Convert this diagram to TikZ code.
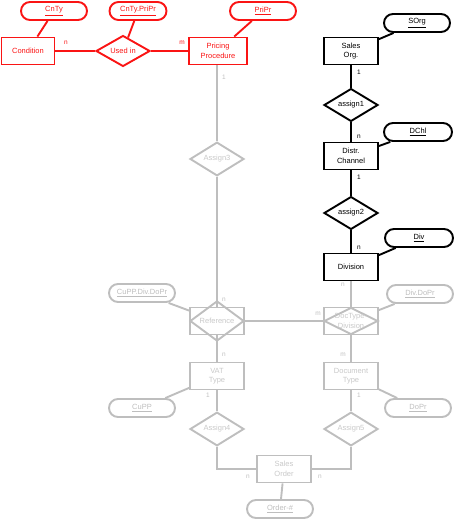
\documentclass[tikz,border=0pt]{standalone}
\usepackage{fontspec}
\setmainfont{Liberation Sans}
\usetikzlibrary{shapes.geometric,positioning}
\definecolor{erRed}{RGB}{250,20,20}
\definecolor{erGray}{RGB}{190,190,190}
\definecolor{erGrayText}{RGB}{200,200,200}

\begin{document}
\begin{tikzpicture}[
  x=1pt,
  y=-1pt,
  entity/.style={
    draw,
    line width=1.9pt,
    minimum width=54pt,
    minimum height=27pt,
    inner sep=1pt,
    align=center,
    font=\fontsize{7.5}{9.5}\selectfont
  },
  attrib/.style={
    draw,
    line width=1.9pt,
    rounded corners=9pt,
    minimum width=66pt,
    minimum height=18pt,
    inner sep=1pt,
    font=\fontsize{7.5}{9}\selectfont
  },
  relation/.style={
    draw,
    diamond,
    line width=1.9pt,
    minimum width=54pt,
    minimum height=27pt,
    inner sep=0pt,
    font=\fontsize{7.5}{9}\selectfont
  },
  card/.style={inner sep=0pt,font=\fontsize{6.5}{7}\selectfont},
  link/.style={line width=1.9pt}
]
  \useasboundingbox (0,0) rectangle (454,521);

  % red part
  \node[entity,erRed,minimum width=53pt] (condition) at (28,51) {Condition};
  \node[relation,erRed] (usedin) at (123,51) {Used in};
  \node[entity,erRed,minimum width=58pt] (pricing) at (218,51) {Pricing\\Procedure};
  \node[attrib,erRed] (cnty) at (54,11) {\underline{CnTy}};
  \node[attrib,erRed,minimum width=57pt] (cntypripr) at (138,11) {\underline{CnTy.PriPr}};
  \node[attrib,erRed] (pripr) at (263,11) {\underline{PriPr}};
  \draw[link,erRed] (condition) -- (usedin) -- (pricing);
  \draw[link,erRed] (cnty) -- (condition);
  \draw[link,erRed] (cntypripr) -- (usedin);
  \draw[link,erRed] (pripr) -- (pricing);
  \node[card,erRed] at (66,43) {n};
  \node[card,erRed] at (182,43) {m};

  % black part
  \node[entity] (salesorg) at (351,51) {Sales\\Org.};
  \node[relation] (assign1) at (351,105) {assign1};
  \node[entity] (distr) at (351,156) {Distr.\\Channel};
  \node[relation] (assign2) at (351,213) {assign2};
  \node[entity] (division) at (351,267) {Division};
  \node[attrib] (sorg) at (417,23) {\underline{SOrg}};
  \node[attrib,minimum width=68pt] (dchl) at (418,132) {\underline{DChl}};
  \node[attrib,minimum width=68pt] (div) at (419,238) {\underline{Div}};
  \draw[link] (salesorg) -- (assign1) -- (distr) -- (assign2) -- (division);
  \draw[link] (sorg) -- (salesorg);
  \draw[link] (dchl) -- (distr);
  \draw[link] (div) -- (division);
  \node[card] at (359,72) {1};
  \node[card] at (359,137) {n};
  \node[card] at (359,177) {1};
  \node[card] at (359,248) {n};

  % gray part
  \begin{scope}[erGray]
    \node[relation,text=erGrayText] (assign3) at (217,159) {Assign3};
    \node[entity] (reference) at (217,321) {};
    \node[relation,text=erGrayText] (referenced) at (217,321) {Reference};
    \node[entity] (doctypediv) at (351,321) {};
    \node[relation] (doctypedivd) at (351,321) {};
    \node[text=erGrayText,align=center,font=\fontsize{7.5}{9.5}\selectfont] at (351,321) {DocType-\\Division};
    \node[entity,text=erGrayText] (vat) at (217,376) {VAT\\Type};
    \node[entity,text=erGrayText] (doctype) at (351,376) {Document\\Type};
    \node[relation,text=erGrayText] (assign4) at (217,429) {Assign4};
    \node[relation,text=erGrayText] (assign5) at (351,429) {Assign5};
    \node[entity,text=erGrayText] (salesorder) at (284,469) {Sales\\Order};
    \node[attrib,text=erGray] (cuppdivdopr) at (142,293) {\underline{CuPP.Div.DoPr}};
    \node[attrib,text=erGray] (divdopr) at (420,294) {\underline{Div.DoPr}};
    \node[attrib,text=erGray] (cupp) at (142,408) {\underline{CuPP}};
    \node[attrib,text=erGray] (dopr) at (418,408) {\underline{DoPr}};
    \node[attrib,text=erGray] (order) at (280,509) {\underline{Order-\#}};

    \draw[link] (pricing.south -| assign3) -- (assign3) -- (reference);
    \draw[link] (division) -- (doctypediv);
    \draw[link] (reference) -- (doctypediv);
    \draw[link] (reference) -- (vat) -- (assign4);
    \draw[link] (doctypediv) -- (doctype) -- (assign5);
    \draw[link] (assign4) |- (salesorder);
    \draw[link] (assign5) |- (salesorder);
    \draw[link] (cuppdivdopr) -- (reference);
    \draw[link] (divdopr) -- (doctypediv);
    \draw[link] (cupp) -- (vat);
    \draw[link] (dopr) -- (doctype);
    \draw[link] (order) -- (salesorder);

    \node[card] at (224,77) {1};
    \node[card] at (224,300) {n};
    \node[card] at (343,285) {n};
    \node[card] at (318,314) {m};
    \node[card] at (224,355) {n};
    \node[card] at (343,355) {m};
    \node[card] at (208,395) {1};
    \node[card] at (359,395) {1};
    \node[card] at (248,477) {n};
    \node[card] at (320,477) {n};
  \end{scope}
\end{tikzpicture}
\end{document}
